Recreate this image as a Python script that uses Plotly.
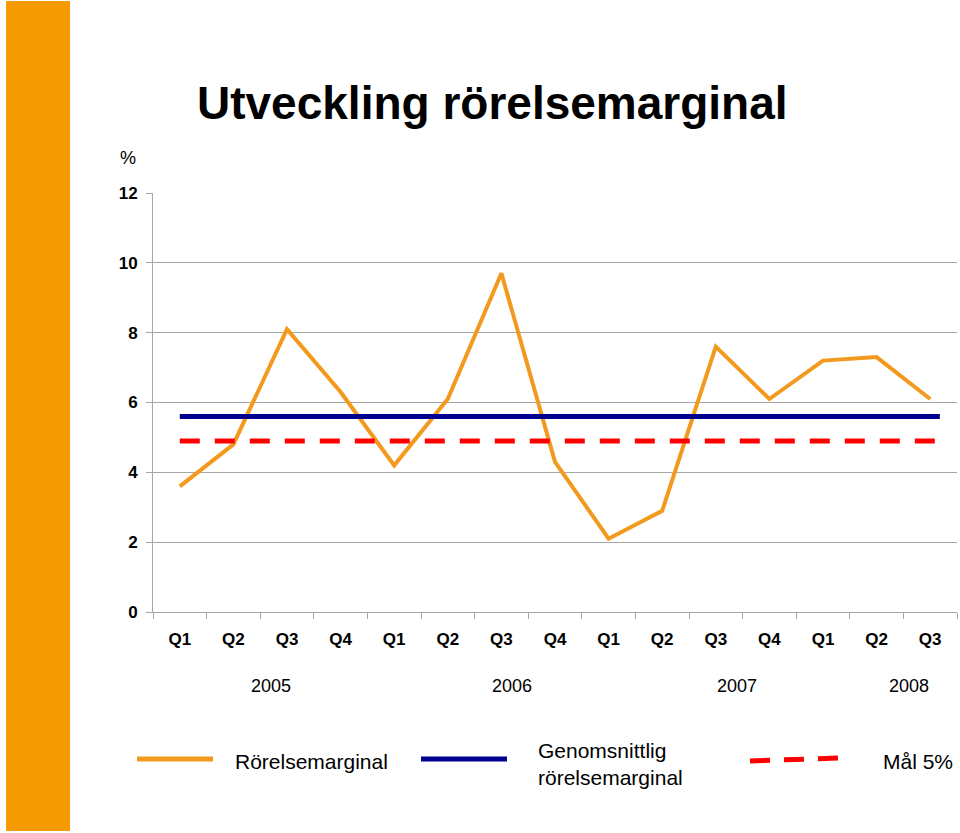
import plotly.graph_objects as go

W, H = 960, 833

# ---- data ----
quarters = ["Q1", "Q2", "Q3", "Q4", "Q1", "Q2", "Q3", "Q4",
            "Q1", "Q2", "Q3", "Q4", "Q1", "Q2", "Q3"]
margin_values = [3.6, 4.8, 8.1, 6.3, 4.2, 6.1, 9.7, 4.3,
                 2.1, 2.9, 7.6, 6.1, 7.2, 7.3, 6.1]
average_value = 5.6
target_value = 4.9
years = ["2005", "2006", "2007", "2008"]
year_label_pos = [1.7, 6.2, 10.4, 13.6]
series_names = ["Rörelsemarginal", "Genomsnittlig<br>rörelsemarginal", "Mål 5%"]

ORANGE = "#F39A1E"
NAVY = "#000090"
RED = "#FF0000"
GRID = "#A6A6A6"
FONT = "Liberation Sans, Arial, sans-serif"


def px(x):
    return x / W


def py(y):
    return 1 - y / H


xs = list(range(len(quarters)))
x_end = len(quarters) - 1 + 0.18

fig = go.Figure()
fig.add_trace(go.Scatter(x=xs, y=margin_values, mode="lines",
                         line=dict(color=ORANGE, width=4), showlegend=False))
fig.add_trace(go.Scatter(x=[0, x_end], y=[average_value] * 2, mode="lines",
                         line=dict(color=NAVY, width=5), showlegend=False))
fig.add_trace(go.Scatter(x=[0, x_end], y=[target_value] * 2, mode="lines",
                         line=dict(color=RED, width=5, dash="20px,15px"),
                         showlegend=False))

shapes = [
    # orange side bar
    dict(type="rect", xref="paper", yref="paper", x0=px(6), x1=px(70),
         y0=py(831), y1=py(1), fillcolor="#F59A00", line=dict(width=0),
         layer="below"),
    # legend samples
    dict(type="line", xref="paper", yref="paper", x0=px(137), x1=px(213),
         y0=py(759), y1=py(759), line=dict(color=ORANGE, width=5)),
    dict(type="line", xref="paper", yref="paper", x0=px(421), x1=px(507),
         y0=py(759), y1=py(759), line=dict(color=NAVY, width=5)),
    dict(type="line", xref="paper", yref="paper", x0=px(750), x1=px(838),
         y0=py(761), y1=py(758), line=dict(color=RED, width=5, dash="20px,14px")),
]

annotations = [
    dict(text="<b>Utveckling rörelsemarginal</b>", xref="paper", yref="paper",
         x=px(195), y=py(103), xanchor="left", yanchor="middle", showarrow=False,
         font=dict(family=FONT, size=46, color="#000")),
    dict(text="%", xref="paper", yref="paper", x=px(128), y=py(158),
         xanchor="center", yanchor="middle", showarrow=False,
         font=dict(family=FONT, size=18, color="#000")),
]
for yr, xp in zip(years, year_label_pos):
    annotations.append(dict(text=yr, xref="x", yref="paper", x=xp, y=py(686),
                            xanchor="center", yanchor="middle", showarrow=False,
                            font=dict(family=FONT, size=18, color="#000")))
legend_text_pos = [(233, 761), (536, 764), (881, 761)]
for name, (lx, ly) in zip(series_names, legend_text_pos):
    annotations.append(dict(text=name, xref="paper", yref="paper", x=px(lx), y=py(ly),
                            xanchor="left", yanchor="middle", align="left",
                            showarrow=False,
                            font=dict(family=FONT, size=21, color="#000")))

fig.update_layout(
    width=W, height=H,
    autosize=False,
    margin=dict(l=0, r=0, t=0, b=0, pad=0, autoexpand=False),
    paper_bgcolor="white", plot_bgcolor="white",
    showlegend=False,
    shapes=shapes,
    annotations=annotations,
    xaxis=dict(domain=[px(153), px(957)], range=[-0.5, len(quarters) - 0.5],
               automargin=False,
               tickmode="array", tickvals=xs,
               ticktext=["<b>%s</b>" % q for q in quarters],
               ticks="", showgrid=False, zeroline=False,
               showline=True, linecolor=GRID, linewidth=1,
               ticklabelstandoff=12,
               tickfont=dict(family=FONT, size=17, color="#000"),
               minor=dict(ticks="outside", tick0=-0.5, dtick=1, ticklen=6,
                          tickcolor=GRID, showgrid=False)),
    yaxis=dict(domain=[py(612), py(193)], range=[0, 12],
               automargin=False,
               tickmode="array", tickvals=[0, 2, 4, 6, 8, 10, 12],
               ticktext=["<b>%d</b>" % v for v in [0, 2, 4, 6, 8, 10, 12]],
               ticks="outside", ticklen=6, tickcolor=GRID,
               showgrid=True, gridcolor=GRID, gridwidth=1,
               zeroline=False, showline=True, linecolor=GRID, linewidth=1,
               ticklabelstandoff=5,
               tickfont=dict(family=FONT, size=17, color="#000")),
)

fig.write_html("out.html",
               config={"displayModeBar": False},
               post_script="document.body.style.margin='0';"
                           "document.body.style.overflow='hidden';")
